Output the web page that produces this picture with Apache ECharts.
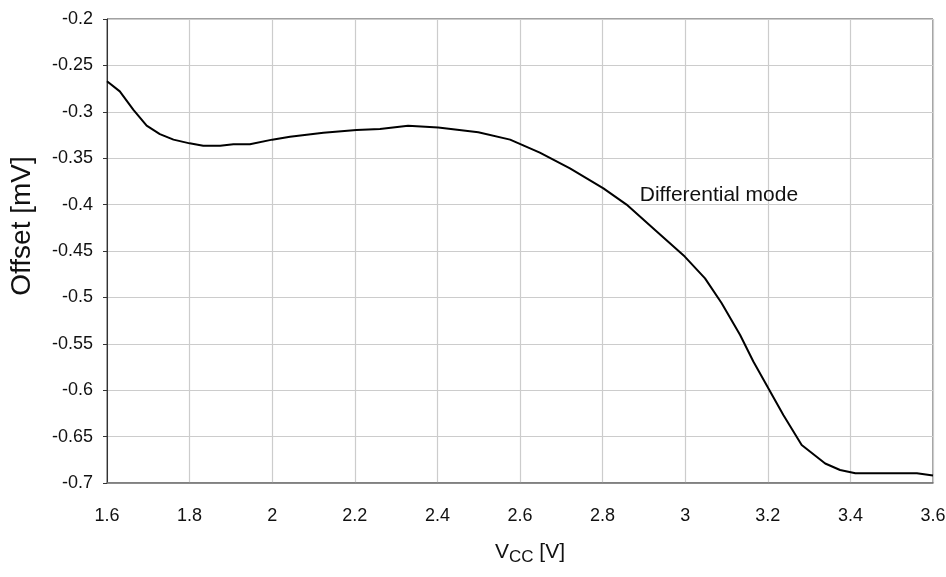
<!DOCTYPE html>
<html>
<head>
<meta charset="utf-8">
<script src="https://cdn.jsdelivr.net/npm/echarts@6/dist/echarts.min.js"></script>
<style>html,body{margin:0;padding:0;background:#fff}#c{width:946px;height:577px}</style>
</head>
<body>
<div id="c"></div>
<script>
var vcc = [1.6, 1.631, 1.664, 1.696, 1.728, 1.761, 1.8, 1.833, 1.874, 1.906, 1.946, 2.0, 2.043, 2.124, 2.204, 2.261, 2.329, 2.402, 2.499, 2.576, 2.648, 2.721, 2.802, 2.858, 2.931, 2.999, 3.048, 3.088, 3.133, 3.165, 3.204, 3.238, 3.282, 3.339, 3.375, 3.412, 3.561, 3.6];
var offset = [-0.267, -0.278, -0.298, -0.315, -0.324, -0.330, -0.334, -0.3365, -0.3365, -0.335, -0.335, -0.330, -0.327, -0.3225, -0.3196, -0.3185, -0.315, -0.317, -0.322, -0.330, -0.344, -0.361, -0.3825, -0.400, -0.429, -0.456, -0.4795, -0.506, -0.5405, -0.569, -0.600, -0.627, -0.659, -0.679, -0.686, -0.6896, -0.6896, -0.692];
var annotationText = 'Differential mode';
var annotationAt = [2.89, -0.39];
var xMin = 1.6, xMax = 3.6, xStep = 0.2;
var yMin = -0.7, yMax = -0.2, yStep = 0.05;

var chart = echarts.init(document.getElementById('c'));
var font = 'Liberation Sans, Arial, sans-serif';
chart.setOption({
  animation: false,
  grid: {left: 107, right: 13, top: 19, bottom: 94, show: true, borderColor: '#444', borderWidth: 1,
    containLabel: false, outerBoundsMode: 'none'},
  xAxis: {
    type: 'value', min: xMin, max: xMax, interval: xStep,
    name: 'V{sub|CC} [V]', nameLocation: 'middle', nameGap: 56,
    nameTextStyle: {fontFamily: font, fontSize: 21, color: '#111', padding: [0, 0, 0, 20],
      rich: {sub: {fontFamily: font, fontSize: 17, color: '#111', verticalAlign: 'bottom', padding: [10, 0, 0, 0]}}},
    axisLine: {lineStyle: {color: '#777', width: 1.5}},
    axisTick: {show: false},
    axisLabel: {fontFamily: font, fontSize: 18, color: '#111', margin: 24},
    splitLine: {lineStyle: {color: '#cccccc', width: 1.2}}
  },
  yAxis: {
    type: 'value', min: yMin, max: yMax, interval: yStep,
    name: 'Offset [mV]', nameLocation: 'middle', nameGap: 71, nameRotate: 90,
    nameTextStyle: {fontFamily: font, fontSize: 28, color: '#111', padding: [0, 0, 0, 50]},
    axisLine: {show: true, lineStyle: {color: '#333'}},
    axisTick: {show: true, inside: false, length: 4, lineStyle: {color: '#333'}},
    axisLabel: {fontFamily: font, fontSize: 18, color: '#111', margin: 14},
    splitLine: {lineStyle: {color: '#cccccc', width: 1.2}}
  },
  series: [{
    type: 'line',
    data: vcc.map(function (v, i) { return [v, offset[i]]; }),
    showSymbol: false, symbol: 'none',
    lineStyle: {color: '#000', width: 2},
    markPoint: {
      symbol: 'circle', symbolSize: 0,
      data: [{coord: annotationAt}],
      label: {show: true, position: 'right', distance: 0, formatter: annotationText,
        fontFamily: font, fontSize: 21, color: '#111'}
    }
  }]
});
</script>
</body>
</html>
